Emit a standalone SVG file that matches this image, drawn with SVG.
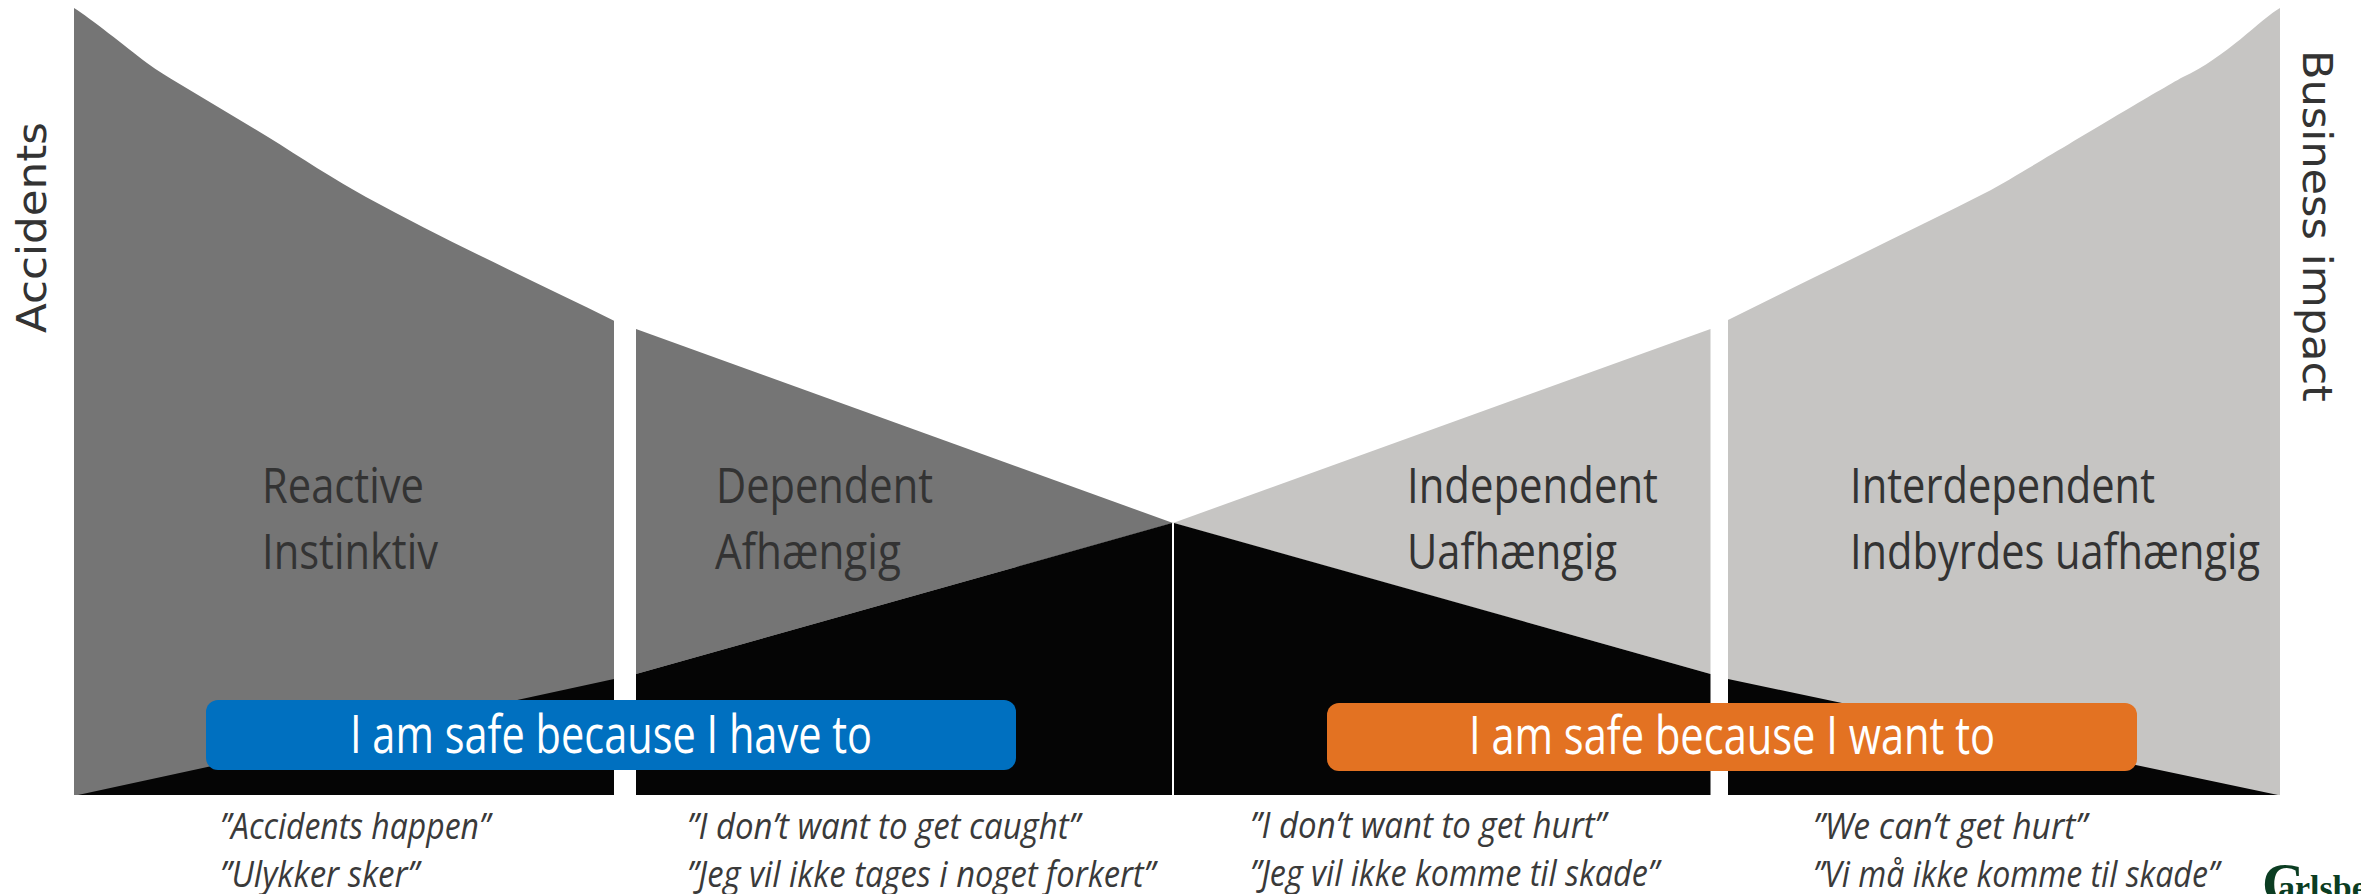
<svg xmlns="http://www.w3.org/2000/svg" width="2361" height="894" viewBox="0 0 2361 894">
<style>
.dark{fill:#757575}
.light{fill:#c6c5c3}
.black{fill:#050505}
.lab{font-family:"Open Sans","Liberation Sans",sans-serif;font-size:50px;fill:#333}
.ban{font-family:"Open Sans","Liberation Sans",sans-serif;font-size:53px;fill:#fff}
.q{font-family:"Open Sans","Liberation Sans",sans-serif;font-style:italic;font-size:36px;fill:#3a3a3a}
.ax{font-family:"DejaVu Sans",sans-serif;font-size:41px;fill:#333}
</style>
<rect width="2361" height="894" fill="#fff"/>
<g id="reactive">
<path class="dark" d="M74 8 C90 18 125 46 147 63 C158 71 168 77 178 83 L268 137 C300 157 335 180 366 197 C450 243 530 279 614 320.700 L614 795 L74 795 Z"/>
<path class="black" d="M78 795 L614 679 L614 795 Z"/>
<text class="lab" x="262" y="503" textLength="162" lengthAdjust="spacingAndGlyphs">Reactive</text>
<text class="lab" x="262" y="569" textLength="176" lengthAdjust="spacingAndGlyphs">Instinktiv</text>
</g>
<g id="dependent">
<path class="dark" d="M636 329 L1173 523 L636 674 Z"/>
<path class="black" d="M636 674 L1172 523 L1172 795 L636 795 Z"/>
<text class="lab" x="716" y="503" textLength="217" lengthAdjust="spacingAndGlyphs">Dependent</text>
<text class="lab" x="715" y="569" textLength="186" lengthAdjust="spacingAndGlyphs">Afhængig</text>
</g>
<g id="independent">
<path class="light" d="M1710.500 329 L1173 523 L1710.500 674 Z"/>
<path class="black" d="M1174 523 L1710.500 674 L1710.500 795 L1174 795 Z"/>
<text class="lab" x="1407" y="503" textLength="251" lengthAdjust="spacingAndGlyphs">Independent</text>
<text class="lab" x="1407" y="569" textLength="210" lengthAdjust="spacingAndGlyphs">Uafhængig</text>
</g>
<g id="interdependent">
<path class="light" d="M2280 8 C2262 18 2225 58 2183 77 C2150 95 2030 168 1991 190 C1900 236 1810 279 1728 320 L1728 795 L2280 795 Z"/>
<path class="black" d="M1728 679 L2278 795 L1728 795 Z"/>
<text class="lab" x="1850" y="503" textLength="305" lengthAdjust="spacingAndGlyphs">Interdependent</text>
<text class="lab" x="1850" y="569" textLength="410" lengthAdjust="spacingAndGlyphs">Indbyrdes uafhængig</text>
</g>
<g id="connectors"></g>
<g id="banner-have-to">
<rect x="206" y="700" width="810" height="70" rx="12" fill="#0070c0"/>
<text class="ban" x="350" y="753" textLength="522" lengthAdjust="spacingAndGlyphs">I am safe because I have to</text>
</g>
<g id="banner-want-to">
<rect x="1327" y="703" width="810" height="68" rx="12" fill="#e37222"/>
<text class="ban" x="1469" y="754" textLength="526" lengthAdjust="spacingAndGlyphs">I am safe because I want to</text>
</g>
<g id="quotes">
<text class="q" x="220" y="839" textLength="270" lengthAdjust="spacingAndGlyphs">”Accidents happen”</text>
<text class="q" x="220" y="887" textLength="199" lengthAdjust="spacingAndGlyphs">”Ulykker sker”</text>
<text class="q" x="687" y="839" textLength="393" lengthAdjust="spacingAndGlyphs">”I don’t want to get caught”</text>
<text class="q" x="687" y="887" textLength="468" lengthAdjust="spacingAndGlyphs">”Jeg vil ikke tages i noget forkert”</text>
<text class="q" x="1250" y="838" textLength="356" lengthAdjust="spacingAndGlyphs">”I don’t want to get hurt”</text>
<text class="q" x="1250" y="886" textLength="409" lengthAdjust="spacingAndGlyphs">”Jeg vil ikke komme til skade”</text>
<text class="q" x="1813" y="839" textLength="274" lengthAdjust="spacingAndGlyphs">”We can’t get hurt”</text>
<text class="q" x="1813" y="887" textLength="406" lengthAdjust="spacingAndGlyphs">”Vi må ikke komme til skade”</text>
</g>
<g id="axes">
<text class="ax" transform="translate(46 333) rotate(-90)" textLength="211" lengthAdjust="spacingAndGlyphs">Accidents</text>
<text class="ax" transform="translate(2303 50) rotate(90)" textLength="352" lengthAdjust="spacingAndGlyphs">Business impact</text>
</g>
<g id="logo">
<text font-family="Liberation Serif,serif" font-weight="700" fill="#0b3d22" y="899" font-size="34"><tspan x="2262" font-size="58" y="903">C</tspan><tspan x="2278" y="899">arlsbe</tspan></text>
</g>
</svg>
